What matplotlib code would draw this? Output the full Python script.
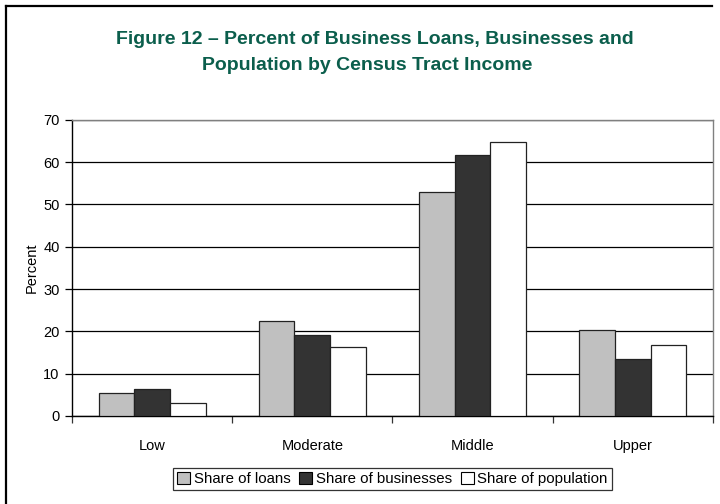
import numpy as np
import matplotlib.pyplot as plt
from matplotlib.lines import Line2D
from matplotlib.patches import Patch

plt.rcParams['font.family'] = ['Liberation Sans', 'DejaVu Sans']

categories = ['Low', 'Moderate', 'Middle', 'Upper']
share_loans = [5.4, 22.4, 53.0, 20.3]
share_businesses = [6.4, 19.2, 61.6, 13.5]
share_population = [3.1, 16.3, 64.7, 16.8]
series_names = ['Share of loans', 'Share of businesses', 'Share of population']
title_lines = ['Figure 12 \u2013 Percent of Business Loans, Businesses and',
               'Population by Census Tract Income']

colors = ['#c0c0c0', '#333333', '#ffffff']
title_green = '#0b5e4c'

fig = plt.figure(figsize=(7.2, 5.04), dpi=100)
ax = fig.add_axes([0.1, 0.175, 0.89, 0.587])

x = np.arange(len(categories))
w = 0.223
for i, vals in enumerate([share_loans, share_businesses, share_population]):
    ax.bar(x + (i - 1) * w, vals, width=w, color=colors[i],
           edgecolor='#222222', linewidth=0.9, zorder=3)

ax.set_xlim(-0.5, 3.5)
ax.set_ylim(0, 70)
ax.set_yticks(range(0, 71, 10))
ax.yaxis.grid(True, color='black', linewidth=0.9, zorder=0)
ax.set_axisbelow(True)

# boundary ticks between categories, labels centred under each group
ax.set_xticks(np.arange(-0.5, 4, 1))
ax.set_xticklabels([])
ax.set_xticks(x, minor=True)
ax.set_xticklabels(categories, minor=True)
ax.tick_params(axis='x', which='minor', length=0, pad=17, labelsize=10.5)
ax.tick_params(axis='x', which='major', length=5, width=0.9, color='#333333')
ax.tick_params(axis='y', length=5, width=0.9, labelsize=10.5, pad=4)

ax.spines['left'].set_color('black')
ax.spines['bottom'].set_color('black')
ax.spines['top'].set_color('#808080')
ax.spines['right'].set_color('#808080')
for s in ax.spines.values():
    s.set_linewidth(1.0)

ax.set_ylabel('Percent', fontsize=10.5, labelpad=3)

fig.text(375 / 720, 1 - 43.5 / 504, title_lines[0], ha='center', va='baseline',
         fontsize=14, fontweight='bold', color=title_green)
fig.text(367 / 720, 1 - 70.5 / 504, title_lines[1], ha='center', va='baseline',
         fontsize=14, fontweight='bold', color=title_green)

handles = [Patch(facecolor=c, edgecolor='black', linewidth=0.8) for c in colors]
leg = fig.legend(handles, series_names, loc='center', bbox_to_anchor=(0.545, 0.049),
                 ncol=3, frameon=True, fontsize=10.8, handlelength=0.85,
                 handleheight=0.85, handletextpad=0.25, columnspacing=0.6,
                 borderpad=0.25, fancybox=False, edgecolor='black')
leg.get_frame().set_linewidth(0.9)

# outer chart frame (left and top edges)
fig.add_artist(Line2D([6 / 720, 6 / 720], [0, 1 - 6 / 504], color='black', linewidth=1.6))
fig.add_artist(Line2D([6 / 720, 712 / 720], [1 - 6 / 504, 1 - 6 / 504], color='black', linewidth=1.6))

fig.savefig('out.png', dpi=100)
